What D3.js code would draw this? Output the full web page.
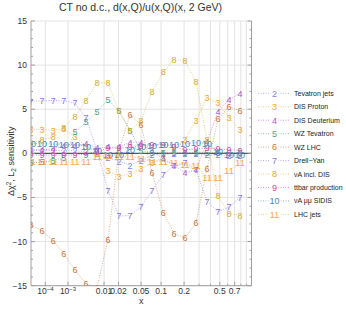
<!DOCTYPE html>
<html>
<head>
<meta charset="utf-8">
<script src="https://cdn.jsdelivr.net/npm/d3@7"></script>
<style>
  body { margin: 0; background: #fff; }
  svg { font-family: "Liberation Sans", Arial, sans-serif; }
</style>
</head>
<body>
<div id="chart"></div>
<script>
// x grid shared by all experiments
const xValues = [1e-5, 6.4e-5, 2.5e-4, 7e-4, 1.7e-3, 3.6e-3, 6.9e-3, 0.0122, 0.0204, 0.0326,
                 0.05, 0.074, 0.107, 0.149, 0.205, 0.277, 0.367, 0.479, 0.618, 0.786];

const tevatronJets = [0.35, 0.35, 0.35, 0.3, 0.3, 0.2, 0.0, -0.5, -0.9, -1.35, -0.8, -0.2, 0.0, 0.0, 0.0, 0.0, -0.2, -0.2, -0.3, -0.3];
const disProton = [2.7, 2.7, 2.6, 2.8, 1.85, 0.8, 0.0, -2.0, -2.6, -2.3, -1.75, -1.1, -0.5, 0.3, 1.5, 3.75, 6.3, 5.7, 4.0, 2.7];
const disDeuterium = [0.4, 0.4, 0.5, 0.9, 0.9, 1.1, 0.6, 0.7, 0.7, 1.25, 1.25, 0.3, -0.6, -1.35, -2.2, -1.9, 1.3, 4.7, 6.1, 6.8];
const wzTevatron = [-1.1, -1.0, -0.8, -0.5, 2.4, 3.55, 4.7, 6.1, 4.8, 2.6, 0.3, 0.1, 0.1, 0.1, 0.1, 0.1, 0.1, 0.1, 0.1, 0.1];
const wzLHC = [-8.1, -8.8, -9.9, -11.4, -13.2, -14.8, -15.2, -9.8, 0.3, 4.4, 3.2, -2.2, -6.7, -9.05, -9.6, -7.9, -1.75, 3.9, 5.3, 4.8];
const drellYan = [5.9, 5.95, 6.0, 5.95, 5.7, 4.05, 0.3, -4.2, -7.1, -7.05, -6.0, -4.2, -2.4, -1.45, -1.1, -1.9, -5.45, -6.6, -6.1, -5.0];
const vAInclDIS = [1.2, 1.5, 1.85, 2.95, 4.2, 6.0, 8.0, 8.0, 4.8, 2.6, 3.75, 7.0, 9.2, 10.6, 10.5, 8.1, 1.5, -4.85, -6.8, -7.05];
const ttbar = [-0.2, -0.2, -0.2, -0.2, -0.2, -0.1, 0.2, 0.6, 0.6, 0.7, 0.9, 1.0, 1.0, 0.8, 0.4, 0.5, 0.6, 0.55, 0.4, 0.35];
const vAmumuSIDIS = [1.1, 1.1, 1.05, 1.0, 1.0, 0.8, 0.3, -0.2, -0.2, 0.4, 0.8, 0.9, 1.0, 1.0, 1.1, 1.2, 1.1, 0.2, -0.2, -0.2];
const lhcJets = [-1.0, -1.0, -1.0, -1.0, -1.0, -0.9, -0.35, -0.3, -0.4, -0.35, -0.6, -0.9, -0.9, -1.1, -1.3, -1.35, -2.8, -2.8, -2.0, -1.1];

const seriesIds = ["2", "3", "4", "5", "6", "7", "8", "9", "10", "11"];
const seriesNames = ["Tevatron jets", "DIS Proton", "DIS Deuterium", "WZ Tevatron", "WZ LHC",
                     "Drell\u2212Yan", "\u03bdA incl. DIS", "ttbar production", "\u03bdA \u03bc\u03bc SIDIS", "LHC jets"];
const seriesValues = [tevatronJets, disProton, disDeuterium, wzTevatron, wzLHC,
                      drellYan, vAInclDIS, ttbar, vAmumuSIDIS, lhcJets];
const colors = ["#7f86dc", "#eea52c", "#b255cc", "#4f9e88", "#c6763a",
                "#8c72e4", "#d4ab2e", "#cc4aa4", "#4c86b6", "#f5a646"];

const xMajorTicks = [1e-4, 1e-3, 0.01, 0.02, 0.05, 0.1, 0.2, 0.5, 0.7];
const xGridTicks = [1e-4, 1e-3, 0.01, 0.02, 0.05, 0.1, 0.2, 0.3, 0.4, 0.5, 0.6, 0.7, 0.8, 0.9];
const yMajorTicks = [-15, -10, -5, 0, 5, 10, 15];

const W = 346, H = 310;
const plot = { left: 31, right: 251.5, top: 21, bottom: 285.7 };

const svg = d3.select("#chart").append("svg")
    .attr("width", W).attr("height", H);

// x axis is x^0.2
const x = d3.scalePow().exponent(0.2)
    .domain([1e-5, 1])
    .range([plot.left, plot.right]);
const y = d3.scaleLinear()
    .domain([-15, 15])
    .range([plot.bottom, plot.top]);

svg.append("defs").append("clipPath").attr("id", "clip")
    .append("rect")
    .attr("x", plot.left).attr("y", plot.top)
    .attr("width", plot.right - plot.left).attr("height", plot.bottom - plot.top);

// grid
const grid = svg.append("g");
grid.selectAll(".vg").data(xGridTicks).enter().append("line")
    .attr("x1", d => x(d)).attr("x2", d => x(d))
    .attr("y1", plot.top).attr("y2", plot.bottom)
    .attr("stroke", "#e3e3e3").attr("stroke-width", 1);
grid.selectAll(".hg").data(yMajorTicks.filter(d => d !== 0)).enter().append("line")
    .attr("x1", plot.left).attr("x2", plot.right)
    .attr("y1", d => y(d)).attr("y2", d => y(d))
    .attr("stroke", "#e3e3e3").attr("stroke-width", 1);
grid.append("line")
    .attr("x1", plot.left).attr("x2", plot.right)
    .attr("y1", y(0)).attr("y2", y(0))
    .attr("stroke", "#555").attr("stroke-width", 1.2);

// frame + ticks (Mathematica style, ticks inward)
const frame = svg.append("g").attr("stroke", "#a0a0a0").attr("fill", "none");
frame.append("line").attr("x1", plot.left).attr("x2", plot.left).attr("y1", plot.top).attr("y2", plot.bottom);
frame.append("line").attr("x1", plot.right).attr("x2", plot.right).attr("y1", plot.top).attr("y2", plot.bottom);
frame.append("line").attr("x1", plot.left).attr("x2", plot.right).attr("y1", plot.bottom).attr("y2", plot.bottom);

const yMinor = d3.range(-15, 16, 1);
[plot.left, plot.right].forEach(px => {
    const dir = px === plot.left ? 1 : -1;
    frame.selectAll(null).data(yMinor).enter().append("line")
        .attr("x1", px).attr("x2", d => px + dir * (d % 5 === 0 ? 4 : 2))
        .attr("y1", d => y(d)).attr("y2", d => y(d));
});
frame.selectAll(null).data(xGridTicks).enter().append("line")
    .attr("x1", d => x(d)).attr("x2", d => x(d))
    .attr("y1", plot.bottom).attr("y2", d => plot.bottom - (xMajorTicks.includes(d) ? 4 : 2));

// tick labels
svg.append("g").selectAll("text").data(yMajorTicks).enter().append("text")
    .attr("x", plot.left - 4).attr("y", d => y(d) + 3)
    .attr("text-anchor", "end").attr("font-size", 8.5).attr("fill", "#333")
    .text(d => d < 0 ? "\u2212" + Math.abs(d) : d);

const xl = svg.append("g").selectAll("text").data(xMajorTicks).enter().append("text")
    .attr("x", d => x(d)).attr("y", plot.bottom + 8.5)
    .attr("text-anchor", "middle").attr("font-size", 8.5).attr("fill", "#333");
xl.each(function(d) {
    const t = d3.select(this);
    if (d < 0.005) {
        t.append("tspan").text("10");
        t.append("tspan").attr("dy", -3.5).attr("font-size", 6).text("\u2212" + Math.round(-Math.log10(d)));
    } else {
        t.text(d);
    }
});

// axis titles
svg.append("text").attr("x", 140.5).attr("y", 11)
    .attr("text-anchor", "middle").attr("font-size", 10.5).attr("fill", "#333")
    .text("CT no d.c., d(x,Q)/u(x,Q)(x, 2 GeV)");
svg.append("text").attr("x", (plot.left + plot.right) / 2).attr("y", 304)
    .attr("text-anchor", "middle").attr("font-size", 9).attr("fill", "#333").text("x");
const yt = svg.append("text")
    .attr("transform", `translate(14,${(plot.top + plot.bottom) / 2 + 8}) rotate(-90)`)
    .attr("text-anchor", "middle").attr("font-size", 9).attr("fill", "#333");
yt.append("tspan").text("\u0394\u03c7");
yt.append("tspan").attr("dy", -3).attr("font-size", 6.5).text("2");
yt.append("tspan").attr("dy", 3).text(", L");
yt.append("tspan").attr("dy", 2).attr("font-size", 6.5).text("2");
yt.append("tspan").attr("dy", -2).text(" sensitivity");

// series
const marks = svg.append("g").attr("clip-path", "url(#clip)");
const line = d3.line().x((d, i) => x(xValues[i])).y(d => y(d));
seriesValues.forEach((vals, k) => {
    marks.append("path").datum(vals)
        .attr("d", line)
        .attr("fill", "none")
        .attr("stroke", colors[k])
        .attr("stroke-opacity", 0.6)
        .attr("stroke-width", 1)
        .attr("stroke-dasharray", "1,1.5");
});
seriesValues.forEach((vals, k) => {
    marks.selectAll(null).data(vals).enter().append("text")
        .attr("x", (d, i) => x(xValues[i]))
        .attr("y", d => y(d) + 3.3)
        .attr("text-anchor", "middle")
        .attr("font-size", 9)
        .attr("fill", colors[k])
        .text(seriesIds[k]);
});

// legend
const legend = svg.append("g");
seriesIds.forEach((id, k) => {
    const ly = 93.3 + k * 13.45;
    legend.append("line")
        .attr("x1", 258).attr("x2", 290).attr("y1", ly).attr("y2", ly)
        .attr("stroke", colors[k]).attr("stroke-opacity", 0.6)
        .attr("stroke-width", 1).attr("stroke-dasharray", "1,1.5");
    legend.append("rect").attr("x", id.length > 1 ? 268.5 : 270.5).attr("y", ly - 4)
        .attr("width", id.length > 1 ? 12 : 8).attr("height", 8).attr("fill", "#fff");
    legend.append("text").attr("x", 274.5).attr("y", ly + 3.3)
        .attr("text-anchor", "middle").attr("font-size", 9).attr("fill", colors[k]).text(id);
    legend.append("text").attr("x", 294).attr("y", ly + 2.5)
        .attr("font-size", 7).attr("fill", "#222").text(seriesNames[k]);
});
</script>
</body>
</html>
